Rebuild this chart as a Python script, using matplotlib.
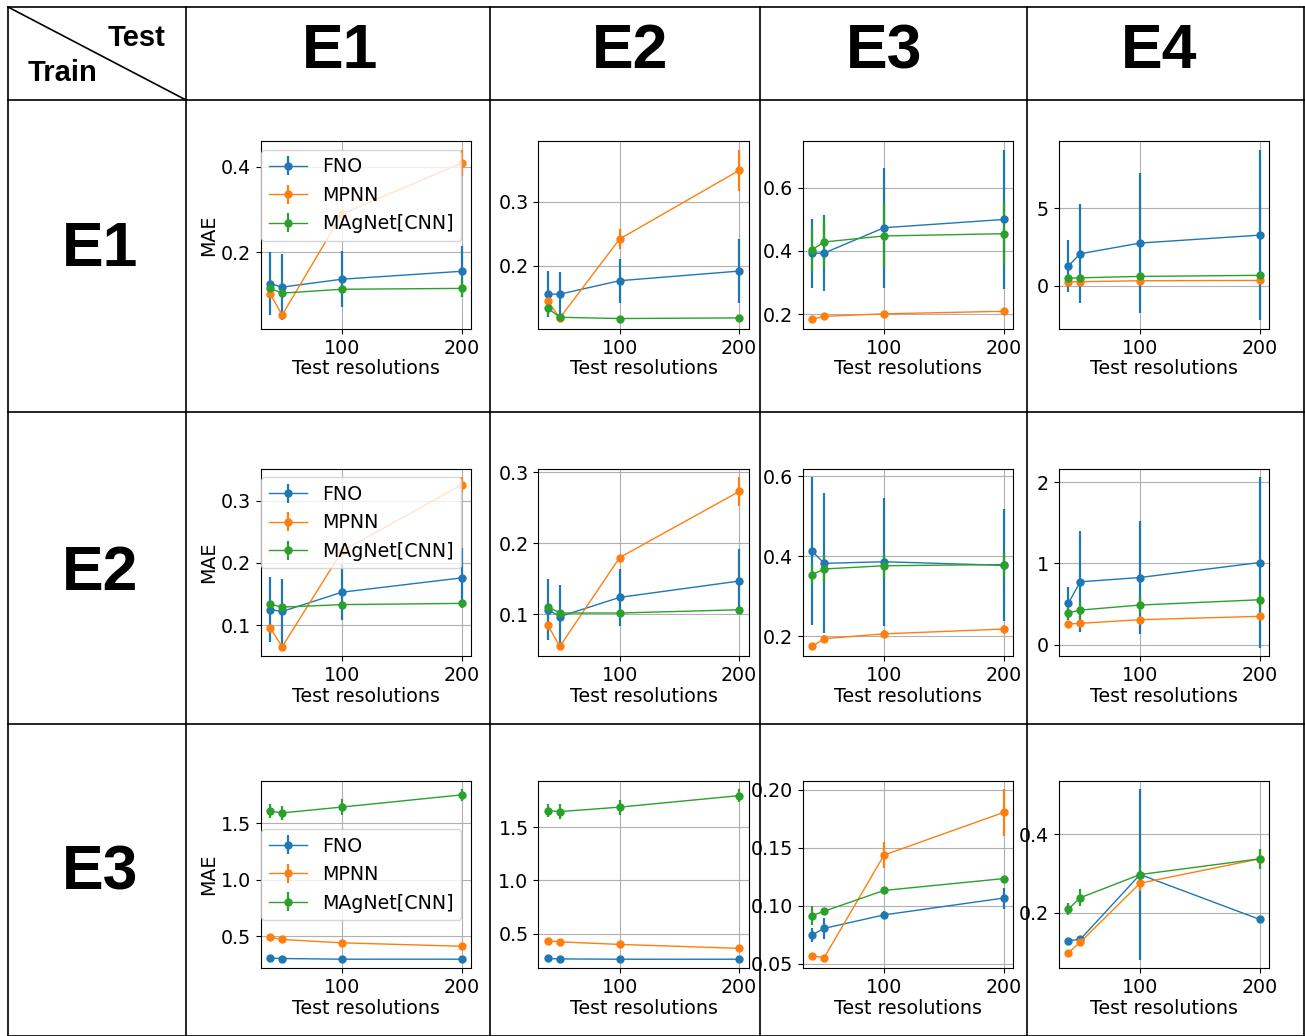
import matplotlib.pyplot as plt
from matplotlib.lines import Line2D

# test resolutions (x) shared by every panel
res = [40, 50, 100, 200]
models = ['FNO', 'MPNN', 'MAgNet[CNN]']
colors = ['tab:blue', 'tab:orange', 'tab:green']
envs = ['E1', 'E2', 'E3', 'E4']
train_envs = ['E1', 'E2', 'E3']

# mean MAE per panel: [train][test] -> (FNO, MPNN, MAgNet)
mae = [
    [  # train E1
        [[0.127, 0.119, 0.1375, 0.156], [0.102, 0.054, 0.29, 0.409], [0.116, 0.105, 0.114, 0.116]],
        [[0.156, 0.156, 0.177, 0.192], [0.145, 0.119, 0.242, 0.349], [0.134, 0.120, 0.118, 0.119]],
        [[0.392, 0.393, 0.473, 0.499], [0.184, 0.193, 0.201, 0.209], [0.404, 0.428, 0.447, 0.454]],
        [[1.27, 2.06, 2.75, 3.26], [0.26, 0.26, 0.32, 0.34], [0.49, 0.51, 0.60, 0.67]],
    ],
    [  # train E2
        [[0.125, 0.122, 0.153, 0.176], [0.095, 0.0654, 0.219, 0.326], [0.1335, 0.129, 0.133, 0.135]],
        [[0.1066, 0.097, 0.124, 0.147], [0.085, 0.055, 0.18, 0.273], [0.111, 0.102, 0.102, 0.1066]],
        [[0.412, 0.382, 0.386, 0.377], [0.175, 0.194, 0.206, 0.218], [0.354, 0.368, 0.376, 0.379]],
        [[0.507, 0.773, 0.826, 1.01], [0.254, 0.262, 0.307, 0.348], [0.39, 0.425, 0.487, 0.552]],
    ],
    [  # train E3
        [[0.304, 0.301, 0.295, 0.295], [0.49, 0.47, 0.44, 0.41], [1.608, 1.593, 1.645, 1.753]],
        [[0.268, 0.264, 0.261, 0.261], [0.436, 0.424, 0.40, 0.363], [1.656, 1.646, 1.688, 1.796]],
        [[0.075, 0.0806, 0.0922, 0.1067], [0.0568, 0.0554, 0.1438, 0.1806], [0.0916, 0.0954, 0.1133, 0.1235]],
        [[0.129, 0.132, 0.297, 0.183], [0.098, 0.125, 0.275, 0.337], [0.209, 0.238, 0.297, 0.337]],
    ],
]

# standard deviation per panel, same layout
std = [
    [
        [[0.073, 0.078, 0.066, 0.06], [0.006, 0.005, 0.01, 0.031], [0.008, 0.008, 0.01, 0.02]],
        [[0.036, 0.035, 0.034, 0.05], [0.005, 0.004, 0.015, 0.032], [0.012, 0.003, 0.002, 0.003]],
        [[0.11, 0.12, 0.19, 0.22], [0.004, 0.004, 0.004, 0.005], [0.07, 0.08, 0.10, 0.10]],
        [[1.65, 3.2, 4.5, 5.5], [0.05, 0.05, 0.05, 0.05], [0.05, 0.05, 0.06, 0.06]],
    ],
    [
        [[0.052, 0.052, 0.045, 0.048], [0.004, 0.002, 0.006, 0.012], [0.004, 0.004, 0.004, 0.004]],
        [[0.043, 0.044, 0.04, 0.045], [0.003, 0.002, 0.004, 0.02], [0.004, 0.003, 0.003, 0.003]],
        [[0.185, 0.175, 0.16, 0.14], [0.004, 0.008, 0.01, 0.01], [0.025, 0.035, 0.03, 0.03]],
        [[0.2, 0.62, 0.69, 1.05], [0.02, 0.02, 0.02, 0.02], [0.08, 0.1, 0.1, 0.1]],
    ],
    [
        [[0.008, 0.008, 0.006, 0.006], [0.03, 0.03, 0.02, 0.02], [0.06, 0.06, 0.07, 0.05]],
        [[0.006, 0.006, 0.006, 0.006], [0.02, 0.03, 0.02, 0.02], [0.06, 0.07, 0.07, 0.06]],
        [[0.006, 0.009, 0.003, 0.009], [0.001, 0.002, 0.011, 0.02], [0.008, 0.002, 0.002, 0.002]],
        [[0.004, 0.004, 0.217, 0.004], [0.004, 0.004, 0.02, 0.006], [0.015, 0.022, 0.022, 0.025]],
    ],
]

yticks = [
    [[0.2, 0.4], [0.2, 0.3], [0.2, 0.4, 0.6], [0, 5]],
    [[0.1, 0.2, 0.3], [0.1, 0.2, 0.3], [0.2, 0.4, 0.6], [0, 1, 2]],
    [[0.5, 1.0, 1.5], [0.5, 1.0, 1.5], [0.05, 0.10, 0.15, 0.20], [0.2, 0.4]],
]

W, H = 1305, 1036
fig = plt.figure(figsize=(W / 100, H / 100), dpi=100)

# axes placement in pixels
ax_left = [260.7, 538.3, 802.7, 1058.7]
ax_top = [141.3, 468.7, 780.7]
ax_w, ax_h = 210.5, 187.7
fs = 13.7

for i in range(3):
    for j in range(4):
        ax = fig.add_axes([ax_left[j] / W, 1 - (ax_top[i] + ax_h) / H, ax_w / W, ax_h / H])
        for k in range(3):
            ax.errorbar(res, mae[i][j][k], yerr=std[i][j][k], color=colors[k], marker='o',
                        markersize=5, linewidth=1, elinewidth=1.6, label=models[k])
        ax.set_xticks([100, 200])
        ax.set_yticks(yticks[i][j])
        ax.tick_params(labelsize=fs)
        ax.grid(True)
        ax.set_xlabel('Test resolutions', fontsize=fs, labelpad=1)
        if j == 0:
            ax.set_ylabel('MAE', fontsize=fs, labelpad=2)
            if i < 2:
                ax.legend(loc='upper left', bbox_to_anchor=(0.003, 0.955), borderaxespad=0,
                          fontsize=fs)
            else:
                ax.legend(loc='center left', bbox_to_anchor=(0.003, 0.5), borderaxespad=0,
                          fontsize=fs)

# table grid
lw = 1.2
xs = [8, 186, 490, 760, 1027, 1304]
ys = [7, 100, 412, 724, 1036]
for x in xs:
    fig.add_artist(Line2D([x / W, x / W], [1 - 7 / H, 0], color='black', lw=lw))
for y in ys:
    fig.add_artist(Line2D([8 / W, 1304 / W], [1 - y / H, 1 - y / H], color='black', lw=lw))
fig.add_artist(Line2D([8 / W, 186 / W], [1 - 7 / H, 1 - 100 / H], color='black', lw=lw))

hfont = ['Liberation Sans', 'DejaVu Sans']
fig.text(166 / W, 1 - 38 / H, 'Test', ha='right', va='center', fontsize=21,
         fontweight='bold', family=hfont)
fig.text(28 / W, 1 - 73 / H, 'Train', ha='left', va='center', fontsize=21,
         fontweight='bold', family=hfont)

col_x = [340, 630, 884, 1159]
for j, e in enumerate(envs):
    fig.text(col_x[j] / W, 1 - 52 / H, e, ha='center', va='center', fontsize=45,
             fontweight='bold', family=hfont)
row_y = [250, 573, 873]
for i, e in enumerate(train_envs):
    fig.text(100 / W, 1 - row_y[i] / H, e, ha='center', va='center', fontsize=45,
             fontweight='bold', family=hfont)

fig.savefig('out.png', dpi=100)
